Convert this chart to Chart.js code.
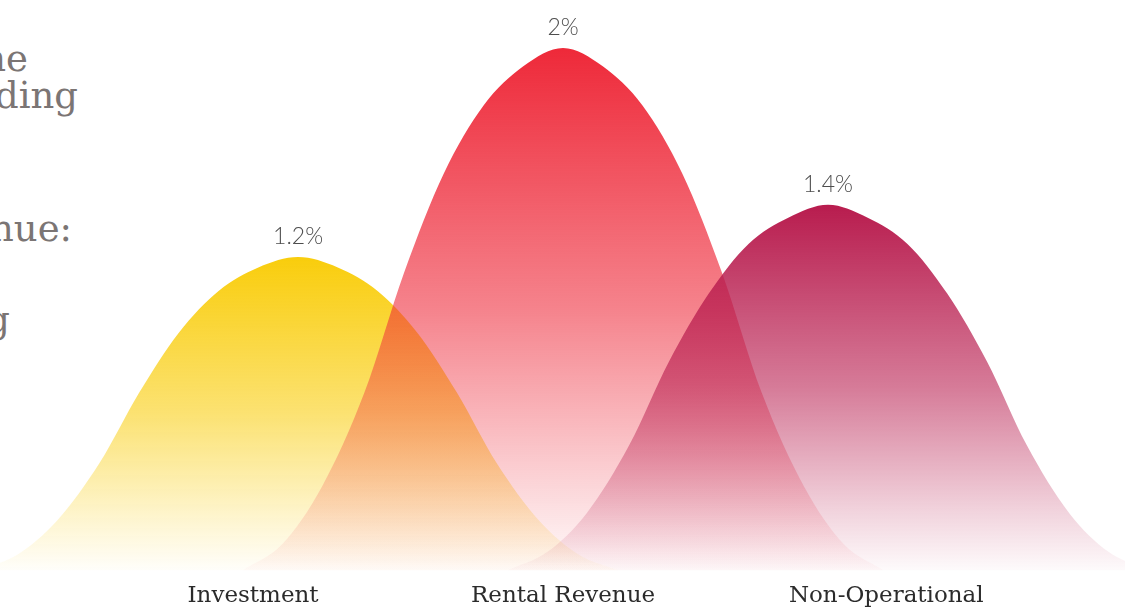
<!DOCTYPE html>
<html>
<head>
<meta charset="utf-8">
<script src="https://cdn.jsdelivr.net/npm/chart.js@4.4.0/dist/chart.umd.min.js"></script>
<style>
html, body { margin: 0; padding: 0; background: #fff; overflow: hidden; }
#wrap { position: relative; width: 1125px; height: 609px; overflow: hidden; }
#chart_box { position: absolute; left: 0; top: 0; width: 1125px; height: 622px; }
.side { position: absolute; font-family: "DejaVu Serif"; font-size: 37px; color: #7b7574; white-space: nowrap; line-height: 1; }
</style>
</head>
<body>
<div id="wrap">
    <div class="side" style="right:1097px; top:40px;">ne</div>
    <div class="side" style="right:1047px; top:77px;">ding</div>
    <div class="side" style="right:1053px; top:210px;">nue:</div>
    <div class="side" style="right:1115px; top:301px;">g</div>
    <div id="chart_box"><canvas id="chart"></canvas></div>
</div>
<script>
// categories and values
let categories = ['Investment', 'Rental Revenue', 'Non-Operational'];
let peakValues = [1.2, 2, 1.4];
let peakLabels = ['1.2%', '2%', '1.4%'];
let labelPos = [-0.17, 1.0, 2.22];

// bell outlines (x in category units, y in %)
let investmentX = [-1.21, -1.06, -0.91, -0.75, -0.60, -0.45, -0.30, -0.15, 0, 0.15, 0.30, 0.45, 0.60, 0.75, 0.91, 1.06, 1.21];
let investmentY = [0, 0.06, 0.19, 0.41, 0.68, 0.91, 1.07, 1.16, 1.2, 1.16, 1.07, 0.91, 0.68, 0.41, 0.19, 0.06, 0];
let rentalX = [-0.21, -0.06, 0.09, 0.25, 0.40, 0.55, 0.70, 0.85, 1, 1.15, 1.30, 1.45, 1.60, 1.75, 1.91, 2.06, 2.21];
let rentalY = [0, 0.10, 0.32, 0.68, 1.14, 1.52, 1.78, 1.93, 2, 1.93, 1.78, 1.52, 1.14, 0.68, 0.32, 0.10, 0];
let nonOpX = [0.79, 0.94, 1.09, 1.25, 1.40, 1.55, 1.70, 1.85, 2, 2.15, 2.30, 2.45, 2.60, 2.75, 2.91, 3.06, 3.21];
let nonOpY = [0, 0.07, 0.22, 0.48, 0.80, 1.06, 1.25, 1.35, 1.4, 1.35, 1.25, 1.06, 0.80, 0.48, 0.22, 0.07, 0];

let colors = ['249,205,12', '238,41,57', '184,28,78'];

function points(xs, ys) {
    let out = [];
    for (let i = 0; i < xs.length; i++) {
        out.push({x: xs[i], y: ys[i]});
    }
    return out;
}

function fade(color, peak) {
    return function (context) {
        let chart = context.chart;
        if (!chart.chartArea) {
            return 'rgba(' + color + ',0.5)';
        }
        let top = chart.scales.y.getPixelForValue(peak);
        let bottom = chart.scales.y.getPixelForValue(0);
        let g = chart.ctx.createLinearGradient(0, top, 0, bottom);
        g.addColorStop(0, 'rgba(' + color + ',1)');
        g.addColorStop(0.5, 'rgba(' + color + ',0.58)');
        g.addColorStop(0.85, 'rgba(' + color + ',0.18)');
        g.addColorStop(1, 'rgba(' + color + ',0.02)');
        return g;
    };
}

let peak_labels = {
    id: 'peak_labels',
    afterDatasetsDraw(chart) {
        let ctx = chart.ctx;
        ctx.save();
        ctx.font = '300 23px Lato';
        ctx.fillStyle = '#4d4d4d';
        ctx.textAlign = 'center';
        ctx.textBaseline = 'alphabetic';
        for (let i = 0; i < chart.data.datasets.length; i++) {
            let meta = chart.getDatasetMeta(i);
            let pt = meta.data[8];
            ctx.fillText(peakLabels[i], pt.x, pt.y - 13);
        }
        ctx.restore();
    }
};

let chart = new Chart(document.getElementById('chart'), {
    type: 'line',
    data: {
        datasets: [
            {label: categories[0], data: points(investmentX, investmentY), order: 3, backgroundColor: fade(colors[0], peakValues[0])},
            {label: categories[1], data: points(rentalX, rentalY), order: 2, backgroundColor: fade(colors[1], peakValues[1])},
            {label: categories[2], data: points(nonOpX, nonOpY), order: 1, backgroundColor: fade(colors[2], peakValues[2])}
        ]
    },
    options: {
        responsive: true,
        maintainAspectRatio: false,
        animation: false,
        layout: {padding: 0},
        elements: {
            line: {fill: 'origin', borderWidth: 0, cubicInterpolationMode: 'monotone'},
            point: {radius: 0, hoverRadius: 0}
        },
        plugins: {
            legend: {display: false},
            tooltip: {enabled: false}
        },
        scales: {
            x: {
                type: 'linear',
                min: -1.125,
                max: 3.121,
                grid: {display: false, drawTicks: false},
                border: {display: false},
                afterBuildTicks: function (scale) {
                    scale.ticks = labelPos.map(v => ({value: v}));
                },
                ticks: {
                    autoSkip: false,
                    maxRotation: 0,
                    padding: 12,
                    color: '#2b2b2b',
                    font: {family: 'DejaVu Serif', size: 23, lineHeight: 1.2},
                    callback: function (value, index) {
                        return categories[index];
                    }
                }
            },
            y: {
                display: false,
                min: 0,
                max: 2.184
            }
        }
    },
    plugins: [peak_labels]
});
</script>
</body>
</html>
